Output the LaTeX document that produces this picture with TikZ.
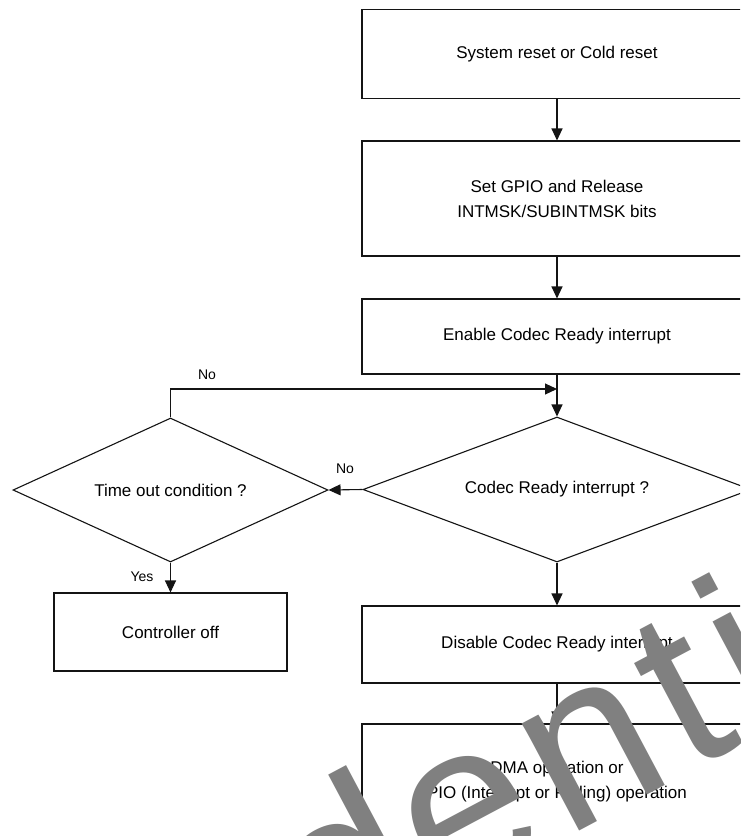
\documentclass[tikz,border=0pt]{standalone}
\usepackage{fontspec}
\setmainfont{Liberation Sans}
\newfontfamily\wmfont{Liberation Sans}
\usetikzlibrary{shapes.geometric,arrows.meta}
\definecolor{wmgray}{RGB}{128,128,128}
\definecolor{lncol}{RGB}{20,20,20}
\newcommand\wmgap{\kern12pt}
\begin{document}
\begin{tikzpicture}[x=1pt,y=-1pt,
  every node/.style={font=\fontsize{17}{25}\selectfont, inner sep=0pt},
  procbox/.style={draw=lncol, line width=1.1pt, rectangle, align=center, minimum width=390pt},
  decbox/.style={draw=lncol, line width=1.1pt, diamond, aspect=2.7},
  flow/.style={draw=lncol, line width=1.1pt, -{Triangle[length=12pt,width=11pt]}},
  lbl/.style={font=\fontsize{14}{16}\selectfont},
  wmark/.style={font=\wmfont\fontsize{230}{230}\selectfont, text=wmgray, rotate=28, anchor=base west, inner sep=0pt}]
\useasboundingbox (0,0) rectangle (740,836);
\clip (0,0) rectangle (740,836);
\fill[white] (0,0) rectangle (740,836);

\node[procbox, minimum height=89pt] (reset) at (557,54) {System reset or Cold reset};
\node[procbox, minimum height=115pt] (gpio) at (557,198.5) {Set GPIO and Release\\INTMSK/SUBINTMSK bits};
\node[procbox, minimum height=75pt] (enable) at (557,336.5) {Enable Codec Ready interrupt};
\node[decbox, minimum width=388pt, minimum height=145pt] (codec) at (557,489.5) {Codec Ready interrupt ?};
\node[decbox, minimum width=315pt, minimum height=144pt] (timeout) at (170.5,490) {Time out condition ?};
\node[procbox, minimum width=233pt, minimum height=78pt] (ctrl) at (170.5,632) {Controller off};
\node[procbox, minimum height=77pt] (disable) at (557,644.5) {Disable Codec Ready interrupt};
\node[procbox, minimum height=116pt] (dma) at (557,782) {DMA operation or\\PIO (Interrupt or Polling) operation};

\coordinate (fbcorner) at (170.5,389);
\coordinate (fbend) at (557,389);

\draw[flow] (reset) -- (gpio);
\draw[flow] (gpio) -- (enable);
\draw[flow] (enable) -- (codec);
\draw[flow] (timeout.north) -- (fbcorner) -- (fbend);
\draw[flow] (codec.west) -- (timeout.east);
\draw[flow] (timeout.south) -- (ctrl.north);
\draw[flow] (codec.south) -- (disable.north);
\draw[flow] (disable.south) -- (dma.north);

\node[lbl] (lno1) at (207,375) {No};
\node[lbl] (lno2) at (345,469) {No};
\node[lbl] (lyes) at (142,577) {Yes};

\node[wmark] (wm) at (-222.6,1257.2) {C\wmgap o\wmgap n\wmgap f\wmgap i\kern36pt d\kern4pt e\wmgap n\wmgap t\wmgap i\wmgap a\wmgap l};
\end{tikzpicture}
\end{document}
